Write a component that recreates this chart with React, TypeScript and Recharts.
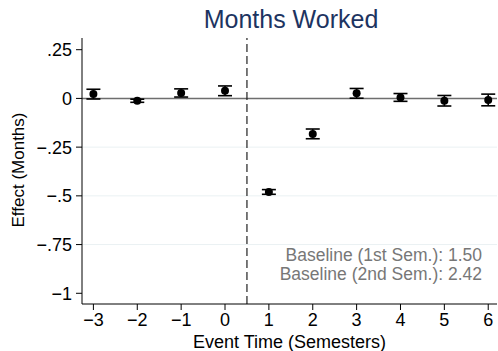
import React from "react";
import {
  ComposedChart,
  Scatter,
  ErrorBar,
  XAxis,
  YAxis,
  ReferenceLine,
  Label,
} from "recharts";

// event study estimates: months worked relative to the event semester
const eventTimes = [-3, -2, -1, 0, 1, 2, 3, 4, 5, 6];
const effects = [0.022, -0.012, 0.028, 0.039, -0.48, -0.182, 0.026, 0.005, -0.012, -0.008];
const ciHalfWidths = [0.025, 0.008, 0.021, 0.025, 0.012, 0.025, 0.025, 0.02, 0.027, 0.03];

const xTicks = [-3, -2, -1, 0, 1, 2, 3, 4, 5, 6];
const yTicks = [0.25, 0, -0.25, -0.5, -0.75, -1];
const gridLevels = [-0.25, -0.5, -0.75];
const baselineNotes = ["Baseline (1st Sem.): 1.50", "Baseline (2nd Sem.): 2.42"];

const data = eventTimes.map((t, i) => ({ t, effect: effects[i], ci: ciHalfWidths[i] }));

const FONT = "'Liberation Sans', Arial, Helvetica, sans-serif";

const fmtY = (v: number) => {
  if (v === 0) return "0";
  if (v === -1) return "\u22121";
  const s = Math.abs(v).toString().replace(/^0/, "");
  return v < 0 ? "\u2212" + s : s;
};
const fmtX = (v: number) => (v < 0 ? "\u2212" + Math.abs(v) : String(v));

const Dot = (props: any) => {
  const { cx, cy } = props;
  return <circle cx={cx} cy={cy} r={4} fill="#000" />;
};

export default function App() {
  return (
    <div style={{ position: "absolute", left: 0, top: 0, background: "#fff", fontFamily: FONT }}>
      <ComposedChart
        width={498}
        height={351}
        data={data}
        margin={{ top: 38, right: 1, bottom: 0, left: 0 }}
      >
        <text x={291} y={28} textAnchor="middle" fontSize={25} fill="#1d3461" fontFamily={FONT}>
          Months Worked
        </text>
        <XAxis
          dataKey="t"
          type="number"
          domain={[-3.26, 6.2]}
          ticks={xTicks}
          tickFormatter={fmtX}
          tickLine={{ stroke: "#000" }}
          axisLine={{ stroke: "#000" }}
          tickSize={6}
          tickMargin={3}
          tick={{ fill: "#000", fontSize: 18, fontFamily: FONT }}
          height={47}
          allowDataOverflow
        >
          <Label
            value="Event Time (Semesters)"
            position="insideBottom"
            offset={3}
            style={{ fill: "#000", fontSize: 18, fontFamily: FONT }}
          />
        </XAxis>
        <YAxis
          type="number"
          domain={[-1.055, 0.31]}
          ticks={yTicks}
          tickFormatter={fmtY}
          tickLine={{ stroke: "#000" }}
          axisLine={{ stroke: "#000" }}
          tickSize={6}
          tickMargin={4}
          tick={{ fill: "#000", fontSize: 18, fontFamily: FONT }}
          width={82}
          allowDataOverflow
        >
          <Label
            content={() => (
              <text
                transform="translate(24,170) rotate(-90)"
                textAnchor="middle"
                fontSize={17}
                fill="#000"
                fontFamily={FONT}
              >
                Effect (Months)
              </text>
            )}
          />
        </YAxis>
        {gridLevels.map((g) => (
          <ReferenceLine key={g} y={g} stroke="#eaf1f3" strokeWidth={1} />
        ))}
        <ReferenceLine y={0} stroke="#6e6e6e" strokeWidth={1.5} />
        <ReferenceLine x={0.5} stroke="#222" strokeWidth={1.2} strokeDasharray="8 4" />
        <Scatter dataKey="effect" shape={<Dot />} isAnimationActive={false}>
          <ErrorBar dataKey="ci" direction="y" width={7} stroke="#000" strokeWidth={1.6} />
        </Scatter>
        {baselineNotes.map((note, i) => (
          <text
            key={note}
            x={482}
            y={261 + i * 19}
            textAnchor="end"
            fontSize={17.5}
            fill="#777"
            fontFamily={FONT}
          >
            {note}
          </text>
        ))}
      </ComposedChart>
    </div>
  );
}
